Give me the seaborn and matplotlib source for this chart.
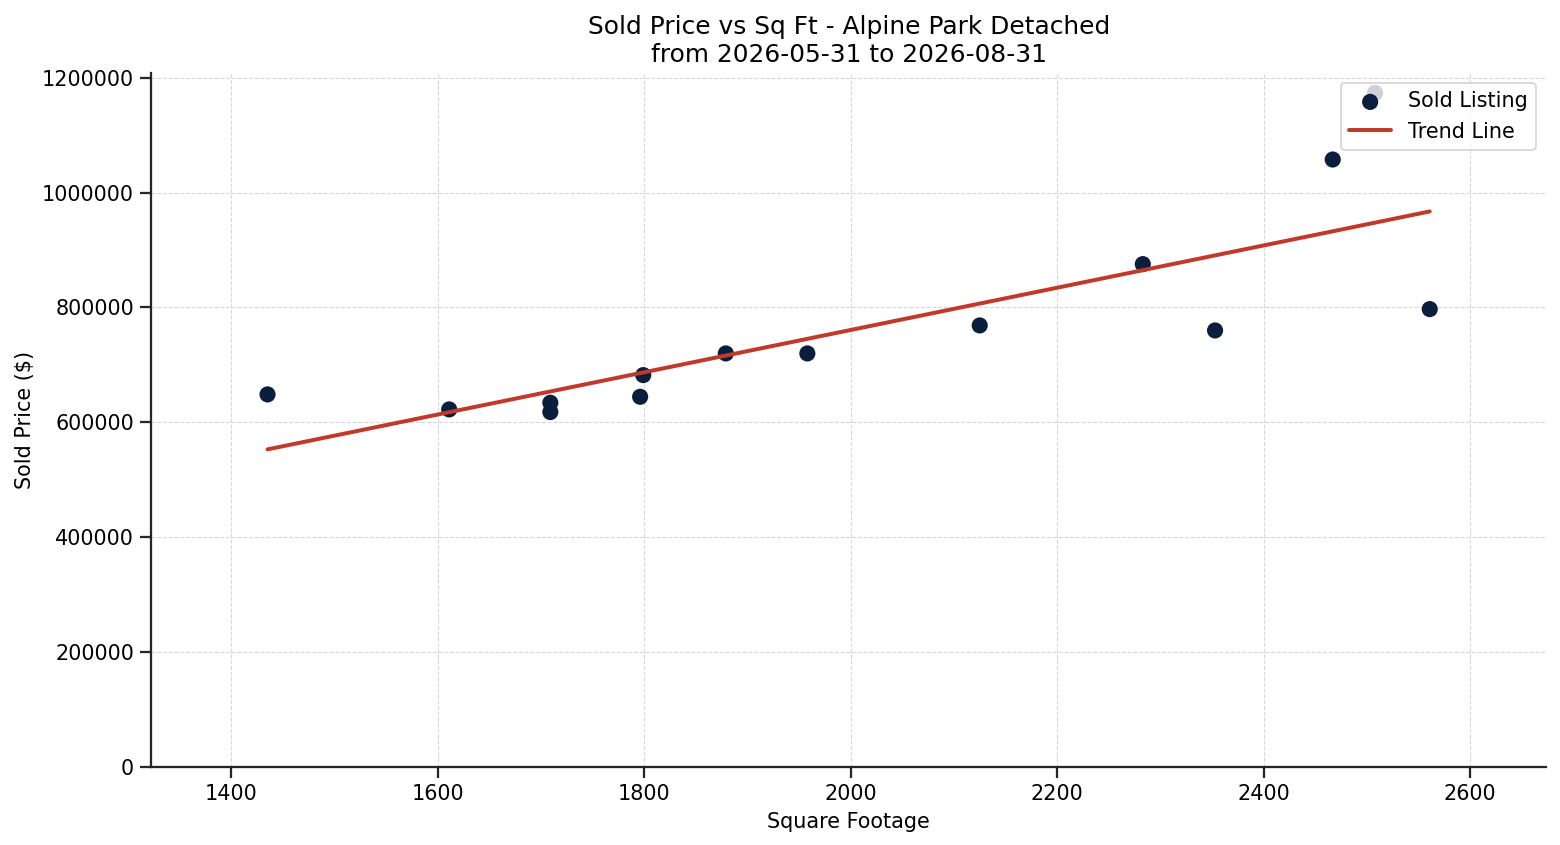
import numpy as np
import pandas as pd
import matplotlib
matplotlib.use("Agg")
import matplotlib.pyplot as plt
import seaborn as sns

# sold listings
sqft = [1435, 1611, 1709, 1709, 1796, 1799, 1879, 1958, 2125, 2283, 2353, 2467, 2508, 2561]
sold_price = [648700, 622600, 634200, 618000, 644600, 682300, 720000, 720000,
              768700, 875400, 760000, 1057400, 1173300, 797100]

titulo = "Sold Price vs Sq Ft - Alpine Park Detached\nfrom 2026-05-31 to 2026-08-31"
color_puntos = "#0a1f3d"
color_linea = "#c0392b"

data = pd.DataFrame({"sqft": sqft, "price": sold_price})

sns.set_theme(style="ticks", context="notebook")
plt.rcParams['font.family'] = ['DejaVu Sans']
for clave in ["text.color", "axes.labelcolor", "xtick.labelcolor", "ytick.labelcolor"]:
    plt.rcParams[clave] = "black"

fig, ax = plt.subplots(figsize=(12, 6.5), dpi=130)
fig.subplots_adjust(left=0.097, right=0.991, top=0.914, bottom=0.092)

sns.scatterplot(data=data, x="sqft", y="price", color=color_puntos, s=80,
                edgecolor="none", label="Sold Listing", ax=ax, zorder=2)

# least squares trend
m, b = np.polyfit(data["sqft"], data["price"], 1)
xs = np.array([data["sqft"].min(), data["sqft"].max()])
ax.plot(xs, m * xs + b, color=color_linea, linewidth=2.2, label="Trend Line", zorder=3)

ax.margins(x=0.1)
ax.set_ylim(0, data["price"].max() * 1.03)
ax.ticklabel_format(style="plain", axis="y")
ax.grid(True, linestyle="--", linewidth=0.6, color="#cccccc", alpha=0.8)
ax.set_axisbelow(True)
sns.despine(ax=ax)

ax.set_title(titulo, fontsize=13.8)
ax.set_xlabel("Square Footage", fontsize=11.5)
ax.set_ylabel("Sold Price ($)", fontsize=11.5)
ax.tick_params(labelsize=11.5)
ax.legend(loc="upper right", fontsize=11.5)

plt.savefig("out.png", dpi=130)
plt.close()
